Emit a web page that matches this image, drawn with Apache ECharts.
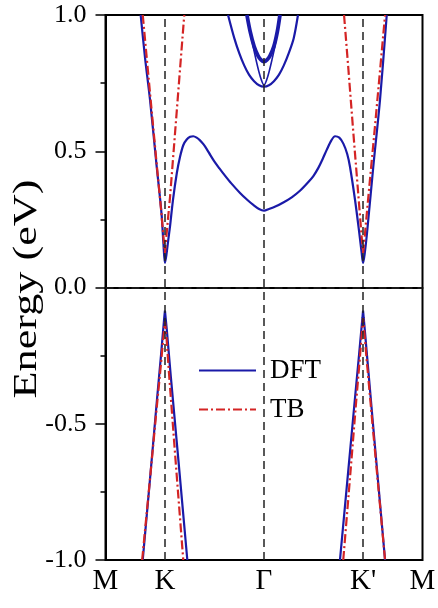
<!DOCTYPE html>
<html>
<head>
<meta charset="utf-8">
<script src="https://cdn.jsdelivr.net/npm/echarts@6/dist/echarts.min.js"></script>
<style>
html,body{margin:0;padding:0;background:#fff;}
#chart{width:438px;height:608px;}
</style>
</head>
<body>
<div id="chart"></div>
<script>
// ---- tick positions / labels ----
const xTickPos = [0, 0.6, 1.6, 2.6, 3.2];
const xTickLabels = ['M', 'K', 'Γ', "K'", 'M'];
const highSymLines = [0.6, 1.6, 2.6];
const yMin = -1, yMax = 1, yStep = 0.5;

// ---- DFT bands [k, E(eV)] ----
const dftCond1 = [[0.355,1.0],[0.40,0.84],[0.449,0.69],[0.517,0.443],[0.55,0.33],[0.568,0.26],[0.585,0.16],[0.6,0.09],[0.615,0.12],[0.634,0.176],[0.651,0.223],[0.681,0.321],[0.72,0.42],[0.752,0.479],[0.786,0.523],[0.82,0.543],[0.855,0.553],[0.886,0.555],[0.92,0.550],[0.954,0.540],[0.99,0.525],[1.022,0.508],[1.06,0.485],[1.10,0.462],[1.15,0.437],[1.19,0.418],[1.27,0.382],[1.358,0.347],[1.43,0.322],[1.492,0.303],[1.55,0.288],[1.6,0.282],[1.65,0.288],[1.72,0.298],[1.795,0.312],[1.88,0.331],[1.963,0.355],[2.05,0.388],[2.10,0.41],[2.15,0.44],[2.19,0.47],[2.233,0.505],[2.28,0.540],[2.317,0.555],[2.36,0.550],[2.401,0.528],[2.44,0.49],[2.468,0.443],[2.519,0.321],[2.562,0.2],[2.585,0.13],[2.6,0.09],[2.615,0.12],[2.64,0.2],[2.703,0.443],[2.771,0.688],[2.839,1.0]];
const dftCond2 = [[1.237,1.0],[1.3,0.915],[1.35,0.86],[1.4,0.815],[1.45,0.78],[1.5,0.757],[1.55,0.742],[1.6,0.737],[1.65,0.742],[1.7,0.757],[1.75,0.78],[1.8,0.815],[1.85,0.86],[1.9,0.915],[1.943,1.0]];
const dftCond3 = [[1.428,1.0],[1.46,0.94],[1.49,0.885],[1.52,0.835],[1.55,0.79],[1.575,0.76],[1.6,0.742],[1.625,0.76],[1.65,0.79],[1.68,0.835],[1.71,0.885],[1.735,0.94],[1.761,1.0]];
const dftCond4 = [[1.428,1.0],[1.46,0.94],[1.5,0.885],[1.54,0.85],[1.57,0.835],[1.6,0.829],[1.63,0.835],[1.66,0.85],[1.7,0.885],[1.735,0.94],[1.761,1.0]];
const dftValK = [[0.376,-1.0],[0.45,-0.70],[0.52,-0.41],[0.56,-0.25],[0.58,-0.165],[0.592,-0.115],[0.6,-0.085],[0.608,-0.115],[0.62,-0.16],[0.66,-0.33],[0.74,-0.65],[0.826,-1.0]];
const dftValKp = [[2.367,-1.0],[2.45,-0.675],[2.52,-0.40],[2.56,-0.245],[2.585,-0.145],[2.594,-0.11],[2.6,-0.085],[2.606,-0.11],[2.615,-0.145],[2.64,-0.25],[2.7,-0.50],[2.822,-1.0]];

// ---- TB bands [k, E(eV)] ----
const tbCondK = [[0.376,1.0],[0.449,0.715],[0.52,0.44],[0.56,0.29],[0.585,0.185],[0.6,0.127],[0.615,0.19],[0.651,0.33],[0.702,0.567],[0.795,1.0]];
const tbCondKp = [[2.408,1.0],[2.45,0.81],[2.502,0.567],[2.55,0.35],[2.585,0.19],[2.6,0.127],[2.615,0.18],[2.65,0.32],[2.72,0.59],[2.822,1.0]];
const tbValK = [[0.37,-1.0],[0.45,-0.70],[0.52,-0.43],[0.56,-0.28],[0.585,-0.18],[0.6,-0.125],[0.615,-0.18],[0.64,-0.31],[0.7,-0.6],[0.785,-1.0]];
const tbValKp = [[2.40,-1.0],[2.47,-0.69],[2.53,-0.42],[2.565,-0.27],[2.588,-0.165],[2.6,-0.112],[2.612,-0.16],[2.64,-0.28],[2.7,-0.52],[2.822,-1.0]];

const BLUE = '#1a1aa8';
const RED = '#d42424';
const FONT = 'Liberation Serif';

function dft(data, w, sm) {
  return { name: 'DFT', type: 'line', data: data, showSymbol: false, symbol: 'none',
    smooth: sm, lineStyle: { color: BLUE, width: w || 2.2 }, itemStyle: { color: BLUE },
    z: 3, silent: true };
}
function tb(data) {
  return { name: 'TB', type: 'line', data: data, showSymbol: false, symbol: 'none',
    smooth: false, lineStyle: { color: RED, width: 2.2, type: [9, 3, 2, 3] }, itemStyle: { color: RED },
    z: 4, silent: true };
}

const markData = highSymLines.map(v => ({ xAxis: v })).concat([{ yAxis: 0 }]);

const chart = echarts.init(document.getElementById('chart'), null, { renderer: 'canvas' });
chart.setOption({
  animation: false,
  backgroundColor: '#fff',
  grid: { left: 105.5, right: 15.5, top: 15, bottom: 48, containLabel: false, outerBoundsMode: 'none',
    show: true, borderColor: '#000', borderWidth: 2, backgroundColor: 'transparent' },
  xAxis: {
    type: 'value', min: 0, max: 3.2,
    axisLine: { show: true, lineStyle: { color: '#000', width: 2 } },
    axisTick: { show: false },
    splitLine: { show: false },
    axisLabel: {
      customValues: xTickPos, showMinLabel: true, showMaxLabel: true,
      formatter: function (v) {
        let best = 0;
        for (let i = 0; i < xTickPos.length; i++) if (Math.abs(xTickPos[i] - v) < Math.abs(xTickPos[best] - v)) best = i;
        return xTickLabels[best];
      },
      color: '#000', fontFamily: FONT, fontSize: 29, margin: 7
    }
  },
  yAxis: {
    type: 'value', min: yMin, max: yMax, interval: yStep,
    axisLine: { show: true, lineStyle: { color: '#000', width: 2 } },
    axisTick: { show: true, length: 10, lineStyle: { color: '#000', width: 1.5 } },
    minorTick: { show: true, splitNumber: 2, length: 5, lineStyle: { color: '#000', width: 1.5 } },
    splitLine: { show: false },
    minorSplitLine: { show: false },
    axisLabel: { formatter: v => v.toFixed(1), color: '#000', fontFamily: FONT, fontSize: 26, margin: 19,
      showMinLabel: true, showMaxLabel: true }
  },
  legend: {
    data: ['DFT', 'TB'], orient: 'vertical', left: 198, top: 357, padding: 0,
    itemWidth: 57, itemHeight: 14, itemGap: 12,
    itemStyle: { color: 'rgba(0,0,0,0)', borderWidth: 0, opacity: 0 },
    textStyle: { color: '#000', fontFamily: FONT, fontSize: 27, lineHeight: 26, padding: [0, 0, 0, 9] },
    selectedMode: false
  },
  graphic: [{
    type: 'text', x: 27, y: 289, rotation: Math.PI / 2, scaleX: 1.3, scaleY: 1,
    style: { text: 'Energy (eV)', fontSize: 34, fontFamily: FONT, fontWeight: 'normal', fill: '#000',
      align: 'center', verticalAlign: 'middle' },
    silent: true
  }],
  series: [
    { type: 'line', data: [], silent: true, z: 1,
      markLine: { silent: true, symbol: ['none', 'none'], animation: false, label: { show: false },
        lineStyle: { color: '#222', type: [8, 5], width: 1.5 }, emphasis: { disabled: true },
        data: markData } },
    dft(dftCond1, 2.2, 0.3), dft(dftCond2, 2.2, 0.3), dft(dftCond3, 1.6, 0.3), dft(dftCond4, 3.8, 0.3),
    dft(dftValK, 2.2, false), dft(dftValKp, 2.2, false),
    tb(tbCondK), tb(tbCondKp), tb(tbValK), tb(tbValKp)
  ]
});
</script>
</body>
</html>
